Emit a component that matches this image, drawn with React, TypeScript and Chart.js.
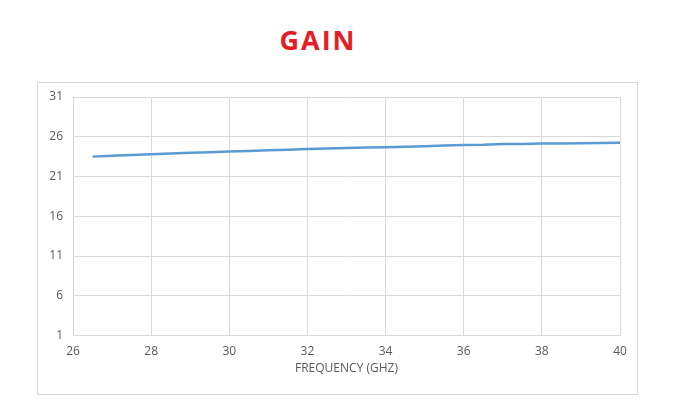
import { useEffect, useRef } from "react";
import { Chart, ChartConfiguration, registerables } from "chart.js";

Chart.register(...registerables);

const frequency = [
  26.5, 27, 27.5, 28, 28.5, 29, 29.5, 30, 30.5, 31, 31.5, 32, 32.5, 33,
  33.5, 34, 34.5, 35, 35.5, 36, 36.5, 37, 37.5, 38, 38.5, 39, 39.5, 40,
];
const gain = [
  23.5, 23.6, 23.7, 23.8, 23.9, 23.98, 24.06, 24.15, 24.22, 24.3, 24.38,
  24.45, 24.52, 24.6, 24.64, 24.68, 24.74, 24.82, 24.9, 24.96, 25.0, 25.1,
  25.1, 25.14, 25.16, 25.18, 25.21, 25.24,
];
const xTicks = [26, 28, 30, 32, 34, 36, 38, 40];
const yTicks = [1, 6, 11, 16, 21, 26, 31];

const GRID = "#d9d9d9";
const TEXT = "#595959";
const FONT = "'Open Sans', sans-serif";

export default function App() {
  const chartRef = useRef<HTMLCanvasElement | null>(null);

  useEffect(() => {
    if (!chartRef.current) return;

    const config: ChartConfiguration = {
      type: "line",
      data: {
        datasets: [
          {
            label: "Gain",
            data: frequency.map((f, i) => ({ x: f, y: gain[i] })),
            borderColor: "#5b9bd5",
            borderWidth: 2.5,
            pointRadius: 0,
            tension: 0,
          },
        ],
      },
      options: {
        animation: false,
        responsive: false,
        layout: { padding: { left: 43, right: 62, top: 97, bottom: 39 } },
        plugins: {
          legend: { display: false },
          tooltip: { enabled: false },
        },
        scales: {
          x: {
            type: "linear",
            min: xTicks[0],
            max: xTicks[xTicks.length - 1],
            afterBuildTicks: (axis) => {
              axis.ticks = xTicks.map((v) => ({ value: v }));
            },
            afterFit: (axis) => {
              axis.height = 44.5;
            },
            grid: { color: GRID, drawTicks: false },
            border: { color: GRID },
            ticks: {
              color: TEXT,
              font: { family: FONT, size: 12 },
              padding: 9,
              maxRotation: 0,
            },
            title: {
              display: true,
              text: "FREQUENCY (GHZ)",
              color: TEXT,
              font: { family: FONT, size: 12 },
              padding: { top: 0, bottom: 4 },
            },
          },
          y: {
            type: "linear",
            min: yTicks[0],
            max: yTicks[yTicks.length - 1],
            afterBuildTicks: (axis) => {
              axis.ticks = yTicks.map((v) => ({ value: v }));
            },
            afterFit: (axis) => {
              axis.width = 30;
            },
            grid: { color: GRID, drawTicks: false },
            border: { display: false },
            ticks: {
              color: TEXT,
              font: { family: FONT, size: 12 },
              padding: 10,
            },
          },
        },
      },
    };

    const chart = new Chart(chartRef.current, config);
    return () => {
      chart.destroy();
    };
  }, []);

  return (
    <div style={{ position: "relative", margin: -8, width: 682, height: 419, background: "#fff" }}>
      <div
        style={{
          position: "absolute",
          left: 37,
          top: 82,
          width: 599,
          height: 311,
          border: `1px solid ${GRID}`,
        }}
      />
      <div
        style={{
          position: "absolute",
          left: 216,
          top: 20,
          width: 200,
          textAlign: "center",
          fontFamily: FONT,
          fontWeight: 700,
          fontSize: 27,
          letterSpacing: 2,
          paddingLeft: 2,
          lineHeight: "40px",
          color: "#e31e24",
        }}
      >
        GAIN
      </div>
      <canvas
        ref={chartRef}
        width={682}
        height={419}
        style={{ position: "absolute", left: 0, top: 0, width: 682, height: 419 }}
      />
    </div>
  );
}
